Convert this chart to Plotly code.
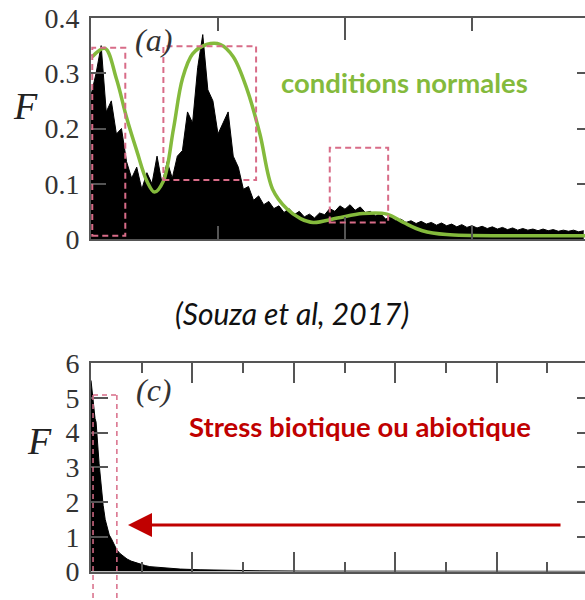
import plotly.graph_objects as go

# ---------------- data ----------------
# Panel (a): spectrum F (normal conditions), sampled every 0.04 frequency units
F_a = [0.26, 0.30, 0.35, 0.23, 0.25, 0.19, 0.20, 0.14, 0.11, 0.13,
       0.09, 0.12, 0.10, 0.15, 0.10, 0.14, 0.11, 0.15, 0.16, 0.23,
       0.21, 0.31, 0.37, 0.27, 0.25, 0.19, 0.21, 0.23, 0.15, 0.13,
       0.09, 0.095, 0.07, 0.078, 0.062, 0.068, 0.055, 0.060, 0.048, 0.055,
       0.044, 0.050, 0.040, 0.045, 0.038, 0.047, 0.044, 0.055, 0.050, 0.060,
       0.054, 0.062, 0.052, 0.058, 0.048, 0.050, 0.042, 0.046, 0.036, 0.040,
       0.033, 0.036, 0.030, 0.033, 0.028, 0.032, 0.027, 0.030, 0.025, 0.029,
       0.024, 0.027, 0.022, 0.026, 0.021, 0.024, 0.020, 0.023, 0.019, 0.022,
       0.018, 0.021, 0.017, 0.020, 0.016, 0.019, 0.016, 0.018, 0.015, 0.018,
       0.015, 0.017, 0.014, 0.016, 0.014, 0.016, 0.013, 0.015]
freq_a = [round(0.04 * i, 2) for i in range(len(F_a))]

# Green envelope for panel (a)
env_x = [0.01, 0.11, 0.20, 0.28, 0.36, 0.44, 0.50, 0.57, 0.65, 0.72, 0.80, 0.91,
         1.02, 1.12, 1.23, 1.33, 1.43, 1.54, 1.65, 1.75, 1.94, 2.14, 2.33, 2.46,
         2.61, 2.80, 3.32, 3.89]
env_y = [0.33, 0.345, 0.29, 0.22, 0.16, 0.105, 0.085, 0.105, 0.20, 0.29, 0.335, 0.352,
         0.352, 0.33, 0.27, 0.19, 0.09, 0.055, 0.037, 0.03, 0.038, 0.046, 0.045, 0.03,
         0.015, 0.008, 0.006, 0.006]

# Dashed boxes in panel (a): (x0, x1, F0, F1)
boxes_a = [(0.01, 0.27, 0.006, 0.346),
           (0.57, 1.30, 0.107, 0.349),
           (1.88, 2.34, 0.030, 0.165)]

# Panel (c): spectrum F (stress)
freq_c = [0.0, 0.02, 0.04, 0.06, 0.08, 0.10, 0.12, 0.14, 0.16, 0.18, 0.20, 0.22,
          0.24, 0.28, 0.32, 0.36, 0.40, 0.43, 0.47, 0.51, 0.57, 0.63, 0.71, 0.79,
          0.87, 0.97, 1.07, 1.16, 1.36, 1.56, 1.76, 2.15, 2.74, 3.33, 4.12, 6.0, 9.74]
F_c = [5.5, 5.2, 5.0, 4.6, 4.4, 4.3, 4.0, 3.5, 3.1, 2.8, 2.4, 2.1,
       1.9, 1.5, 1.25, 1.05, 0.95, 0.85, 0.72, 0.62, 0.52, 0.45, 0.36, 0.30,
       0.26, 0.21, 0.17, 0.14, 0.11, 0.09, 0.07, 0.05, 0.03, 0.02, 0.012, 0.008, 0.005]

box_c = (0.04, 0.51, 5.08)

# ---------------- layout geometry ----------------
W, H = 585, 600
xdom = [91 / W, 1.0]
ydom_a = [1 - 239 / H, 1 - 18 / H]
ydom_c = [1 - 571.5 / H, 1 - 363 / H]
xr_a = [0, 3.89]
yr_a = [0, 0.4]
xr_c = [0, 9.74]
yr_c = [0, 6]

AX = '#555555'
PINK = '#D86C88'
GREEN = '#84BA3C'
RED = '#C00000'

fig = go.Figure()

fig.add_trace(go.Scatter(x=freq_a, y=F_a, mode='lines', fill='tozeroy',
                         fillcolor='black', line=dict(color='black', width=1),
                         xaxis='x', yaxis='y', hoverinfo='skip'))
fig.add_trace(go.Scatter(x=env_x, y=env_y, mode='lines',
                         line=dict(color=GREEN, width=3.5, shape='spline', smoothing=1.0),
                         xaxis='x', yaxis='y', hoverinfo='skip'))
fig.add_trace(go.Scatter(x=freq_c, y=F_c, mode='lines', fill='tozeroy',
                         fillcolor='black', line=dict(color='black', width=1),
                         xaxis='x2', yaxis='y2', hoverinfo='skip'))
# invisible traces for right-side tick axes
fig.add_trace(go.Scatter(x=[None], y=[None], xaxis='x', yaxis='y3', showlegend=False))
fig.add_trace(go.Scatter(x=[None], y=[None], xaxis='x2', yaxis='y4', showlegend=False))

tickfont = dict(family='Liberation Serif', size=28, color='#333333')

fig.update_layout(
    width=W, height=H, autosize=False,
    margin=dict(l=0, r=0, t=0, b=0, pad=0, autoexpand=False),
    paper_bgcolor='white', plot_bgcolor='white',
    showlegend=False,
    xaxis=dict(domain=xdom, anchor='y', range=xr_a, showgrid=False, zeroline=False,
               showline=True, linecolor=AX, linewidth=2, mirror='ticks',
               ticks='inside', dtick=2, tick0=0, ticklen=22, tickwidth=2, tickcolor=AX,
               minor=dict(ticks='inside', dtick=1, ticklen=13, tickwidth=2, tickcolor=AX),
               showticklabels=False, automargin=False),
    yaxis=dict(domain=ydom_a, anchor='x', range=yr_a, showgrid=False, zeroline=False,
               showline=True, linecolor=AX, linewidth=2,
               ticks='inside', dtick=0.1, ticklen=15, tickwidth=2, tickcolor=AX,
               tickfont=tickfont, ticklabelstandoff=4, automargin=False),
    yaxis3=dict(overlaying='y', side='right', anchor='x', range=yr_a, showgrid=False,
                zeroline=False, showline=False, ticks='inside', dtick=0.1, ticklen=8,
                tickwidth=2, tickcolor=AX, showticklabels=False, automargin=False),
    xaxis2=dict(domain=xdom, anchor='y2', range=xr_c, showgrid=False, zeroline=False,
                showline=True, linecolor=AX, linewidth=2, mirror='ticks',
                ticks='inside', dtick=2, tick0=0, ticklen=20, tickwidth=2, tickcolor=AX,
                minor=dict(ticks='inside', dtick=1, ticklen=10, tickwidth=2, tickcolor=AX),
                showticklabels=False, automargin=False),
    yaxis2=dict(domain=ydom_c, anchor='x2', range=yr_c, showgrid=False, zeroline=False,
                showline=True, linecolor=AX, linewidth=2,
                ticks='inside', dtick=1, ticklen=17, tickwidth=2, tickcolor=AX,
                tickfont=tickfont, ticklabelstandoff=4, automargin=False),
    yaxis4=dict(overlaying='y2', side='right', anchor='x2', range=yr_c, showgrid=False,
                zeroline=False, showline=False, ticks='inside', dtick=1, ticklen=8,
                tickwidth=2, tickcolor=AX, showticklabels=False, automargin=False),
)

shapes = []
for x0, x1, f0, f1 in boxes_a:
    shapes.append(dict(type='rect', xref='x', yref='y', x0=x0, x1=x1, y0=f0, y1=f1,
                       line=dict(color=PINK, width=2, dash='6px,4px'),
                       fillcolor='rgba(0,0,0,0)', layer='above'))


def paper_y_c(f):
    return ydom_c[0] + (f - yr_c[0]) / (yr_c[1] - yr_c[0]) * (ydom_c[1] - ydom_c[0])


cx0, cx1, ctop = box_c
shapes.append(dict(type='line', xref='x2', yref='y2', x0=cx0, x1=cx1, y0=ctop, y1=ctop,
                   line=dict(color=PINK, width=1.5, dash='5px,4px'), layer='above'))
for cx in (cx0, cx1):
    shapes.append(dict(type='line', xref='x2', yref='paper', x0=cx, x1=cx,
                       y0=paper_y_c(ctop), y1=0,
                       line=dict(color=PINK, width=1.5, dash='5px,4px'), layer='above'))
fig.update_layout(shapes=shapes)

annotations = [
    dict(text='<i>(a)</i>', x=0.49, y=0.36, xref='x', yref='y', showarrow=False,
         xanchor='center', yanchor='middle',
         font=dict(family='Liberation Serif', size=32, color='#333333')),
    dict(text='<i>(c)</i>', x=1.24, y=5.22, xref='x2', yref='y2', showarrow=False,
         xanchor='center', yanchor='middle',
         font=dict(family='Liberation Serif', size=32, color='#333333')),
    dict(text='<i>F</i>', x=25 / W, y=1 - 106 / H, xref='paper', yref='paper', showarrow=False,
         xanchor='center', yanchor='middle',
         font=dict(family='Liberation Serif', size=38, color='#222222')),
    dict(text='<i>F</i>', x=39 / W, y=1 - 441 / H, xref='paper', yref='paper', showarrow=False,
         xanchor='center', yanchor='middle',
         font=dict(family='Liberation Serif', size=38, color='#222222')),
    dict(text='<b>conditions normales</b>', x=2.47, y=0.284, xref='x', yref='y',
         xanchor='center', yanchor='middle',
         showarrow=False, font=dict(family='Lato', size=27.5, color=GREEN)),
    dict(text='<b>Stress biotique ou abiotique</b>', x=5.3, y=4.16, xref='x2', yref='y2',
         xanchor='center', yanchor='middle',
         showarrow=False, font=dict(family='Lato', size=27.5, color=RED)),
    dict(text='<i>(Souza et al, 2017)</i>', x=292 / W, y=1 - 313 / H, xref='paper',
         yref='paper', showarrow=False, xanchor='center', yanchor='middle',
         font=dict(family='Lato', size=30, color='#111111')),
    dict(text='', x=0.73, y=1.34, xref='x2', yref='y2', showarrow=True,
         ax=434, ay=0, axref='pixel', ayref='pixel', arrowhead=2, arrowsize=1.6,
         arrowwidth=3, arrowcolor=RED, standoff=0),
]
fig.update_layout(annotations=annotations)

fig.write_html('out.html', config={'responsive': False, 'displayModeBar': False},
               post_script="document.body.style.margin='0';")
